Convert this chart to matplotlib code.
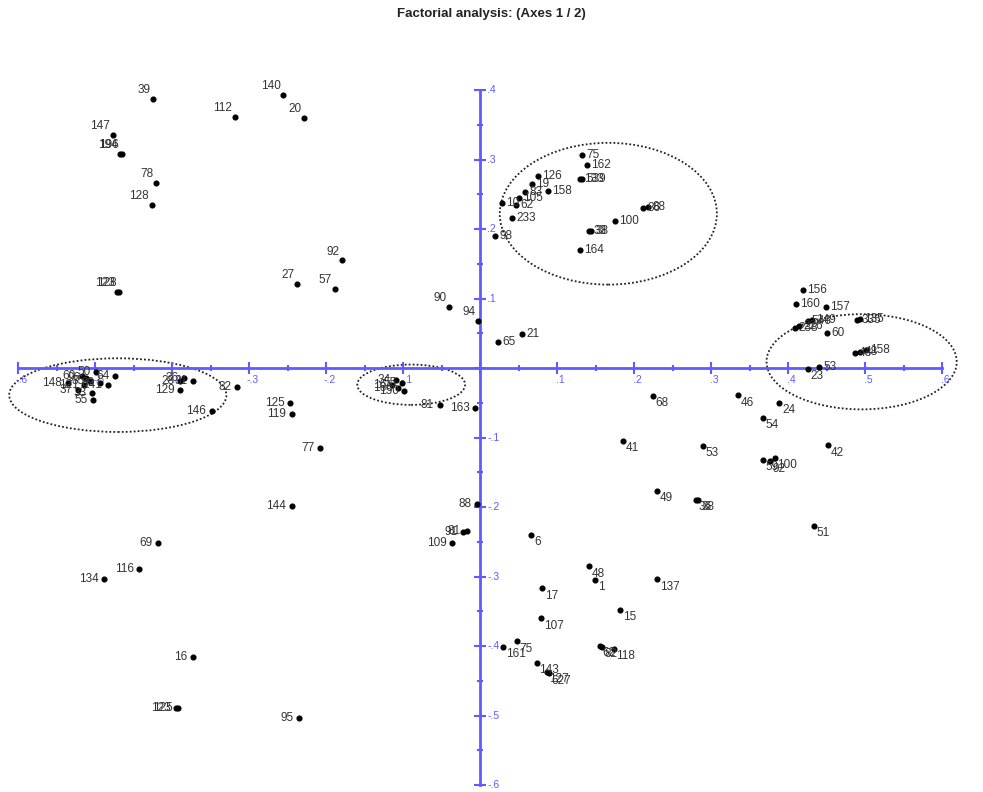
import matplotlib.pyplot as plt
import matplotlib.patches as patches
import numpy as np

# Factor scores of the individuals on axes 1 and 2
labels = [
    "39", "140", "20", "112", "147", "194", "196", "78", "128", "123", "128",
    "92", "27", "57", "90", "94", "65", "21",
    "75", "162", "133", "539", "126", "19", "158", "83", "105", "10", "62",
    "233", "98", "86", "88", "100", "33", "38", "164",
    "156", "160", "157", "546", "149", "238", "226", "60", "335", "135",
    "43", "48", "158", "53", "23",
    "34", "55", "166", "150", "16", "81", "163",
    "148", "60", "96", "35", "121", "37", "33", "55", "89", "141", "64", "50",
    "28", "36", "31", "129", "82", "146", "125", "119",
    "77", "144", "69", "116", "134", "16", "123", "125", "95",
    "88", "91", "81", "109", "6", "48", "1", "137", "17", "15", "107",
    "75", "161", "143", "127", "627", "62", "82", "118",
    "68", "46", "24", "54", "41", "53", "42", "59", "92", "100", "49",
    "36", "38", "51",
]
axis1 = [
    -0.425, -0.256, -0.229, -0.319, -0.477, -0.468, -0.466, -0.421, -0.427, -0.472, -0.469,
    -0.180, -0.238, -0.189, -0.041, -0.003, 0.023, 0.054,
    0.132, 0.138, 0.129, 0.132, 0.075, 0.067, 0.088, 0.058, 0.050, 0.028, 0.046,
    0.041, 0.019, 0.211, 0.218, 0.175, 0.141, 0.144, 0.129,
    0.419, 0.410, 0.449, 0.425, 0.430, 0.408, 0.414, 0.450, 0.489, 0.493,
    0.486, 0.493, 0.501, 0.440, 0.425,
    -0.110, -0.102, -0.107, -0.099, -0.115, -0.053, -0.007,
    -0.536, -0.518, -0.512, -0.507, -0.515, -0.523, -0.505, -0.503, -0.494, -0.484, -0.475, -0.499,
    -0.390, -0.385, -0.373, -0.390, -0.316, -0.349, -0.247, -0.245,
    -0.208, -0.245, -0.419, -0.443, -0.489, -0.373, -0.395, -0.393, -0.236,
    -0.005, -0.023, -0.018, -0.037, 0.066, 0.141, 0.149, 0.229, 0.080, 0.181, 0.079,
    0.047, 0.029, 0.073, 0.086, 0.089, 0.155, 0.158, 0.173,
    0.224, 0.334, 0.388, 0.367, 0.185, 0.289, 0.451, 0.367, 0.376, 0.382, 0.229,
    0.280, 0.283, 0.433,
]
axis2 = [
    0.387, 0.393, 0.360, 0.361, 0.335, 0.308, 0.308, 0.266, 0.235, 0.109, 0.109,
    0.155, 0.121, 0.114, 0.088, 0.068, 0.037, 0.049,
    0.306, 0.292, 0.272, 0.272, 0.276, 0.265, 0.255, 0.253, 0.245, 0.237, 0.235,
    0.216, 0.190, 0.230, 0.232, 0.212, 0.197, 0.197, 0.170,
    0.112, 0.092, 0.088, 0.068, 0.069, 0.058, 0.060, 0.050, 0.069, 0.071,
    0.022, 0.023, 0.026, 0.001, -0.001,
    -0.017, -0.022, -0.029, -0.033, -0.024, -0.053, -0.058,
    -0.022, -0.012, -0.014, -0.019, -0.024, -0.032, -0.036, -0.046, -0.022, -0.024, -0.012, -0.006,
    -0.019, -0.014, -0.019, -0.032, -0.027, -0.062, -0.050, -0.066,
    -0.115, -0.199, -0.252, -0.289, -0.304, -0.416, -0.489, -0.489, -0.504,
    -0.196, -0.236, -0.235, -0.252, -0.240, -0.285, -0.305, -0.304, -0.317, -0.348, -0.360,
    -0.393, -0.401, -0.424, -0.437, -0.439, -0.400, -0.401, -0.404,
    -0.040, -0.039, -0.050, -0.072, -0.105, -0.112, -0.111, -0.132, -0.134, -0.129, -0.177,
    -0.190, -0.190, -0.227,
]

# Groups circled on the map: centre x, centre y, width, height
groups_x = [0.166, 0.495, -0.090, -0.471]
groups_y = [0.222, 0.009, -0.024, -0.039]
groups_w = [0.282, 0.247, 0.140, 0.282]
groups_h = [0.204, 0.137, 0.058, 0.106]

x_ticks = np.round(np.arange(-0.6, 0.61, 0.1), 2)
y_ticks = np.round(np.arange(-0.6, 0.41, 0.1), 2)

axis_blue = '#5c5cff'
text_grey = '#333333'

def fmt(v):
    s = f"{v:.1f}"
    return s.replace("0.", ".")

fig = plt.figure(figsize=(9.83, 7.92), dpi=100)
ax = fig.add_axes([0, 0, 1, 1])
ax.set_xlim(-0.624, 0.6526)
ax.set_ylim(-0.610, 0.5295)
ax.set_facecolor('white')

# Axes through the origin
for side in ['top', 'right']:
    ax.spines[side].set_visible(False)
ax.spines['left'].set_position(('data', 0))
ax.spines['bottom'].set_position(('data', 0))
ax.spines['left'].set_bounds(-0.6, 0.4)
ax.spines['bottom'].set_bounds(-0.6, 0.6)
for side in ['left', 'bottom']:
    ax.spines[side].set_color(axis_blue)
    ax.spines[side].set_linewidth(2)
ax.set_xticks(x_ticks)
ax.set_yticks(y_ticks)
ax.set_xticks(np.round(np.arange(-0.55, 0.6, 0.1), 2), minor=True)
ax.set_yticks(np.round(np.arange(-0.55, 0.4, 0.1), 2), minor=True)
ax.tick_params(which='major', direction='inout', length=9, width=1.5, color=axis_blue,
               labelbottom=False, labelleft=False)
ax.tick_params(which='minor', direction='inout', length=5, width=1.5, color=axis_blue)

for v in x_ticks:
    if v == 0:
        continue
    ax.annotate(fmt(v), (v, 0), xytext=(2, -5), textcoords='offset points',
                ha='center', va='top', fontsize=7.5, color=axis_blue, family='Liberation Sans')
for v in y_ticks:
    if v == 0:
        continue
    ax.annotate(fmt(v), (0, v), xytext=(5, 0), textcoords='offset points',
                ha='left', va='center', fontsize=7.5, color=axis_blue, family='Liberation Sans')

# Individuals
ax.plot(axis1, axis2, 'o', color='black', markersize=3.4, zorder=3)
for lab, x, y in zip(labels, axis1, axis2):
    if x < 0 and y > 0:
        off, ha, va = (-2, 2), 'right', 'bottom'
    elif x < 0:
        off, ha, va = (-4, 0), 'right', 'center'
    elif y >= 0:
        off, ha, va = (3, 0), 'left', 'center'
    else:
        off, ha, va = (2, -1), 'left', 'top'
    ax.annotate(lab, (x, y), xytext=off, textcoords='offset points', ha=ha, va=va,
                fontsize=8.5, color=text_grey, family='Liberation Sans', zorder=4)

for cx, cy, w, h in zip(groups_x, groups_y, groups_w, groups_h):
    ax.add_patch(patches.Ellipse((cx, cy), w, h, fill=False, edgecolor='#222222',
                                 linewidth=1.3, linestyle=(0, (1, 1.2))))

fig.text(0.5, 1 - 14 / 792, "Factorial analysis: (Axes 1 / 2)", ha='center', va='center',
         fontsize=9.5, fontweight='bold', color='#222222', family='Liberation Sans')

fig.savefig('out.png', dpi=100, facecolor='white')
